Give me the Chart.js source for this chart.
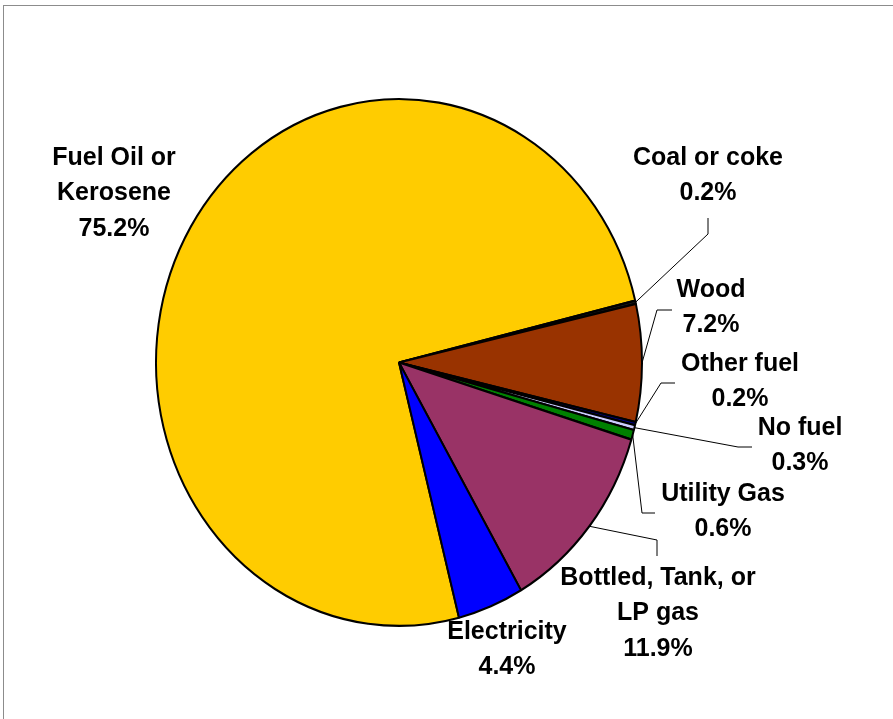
<!DOCTYPE html>
<html>
<head>
<meta charset="utf-8">
<script src="https://cdn.jsdelivr.net/npm/chart.js@4.4.1/dist/chart.umd.min.js"></script>
<style>
  html, body { margin: 0; padding: 0; background: #fff; overflow: hidden; }
  #frame { position: absolute; left: 3px; top: 5px; width: 2000px; height: 2000px; border: 1px solid #8c8c8c; }
  #pieChart { position: absolute; left: 0; top: 0; }
</style>
</head>
<body>
<div id="frame"></div>
<canvas id="pieChart" width="893" height="719"></canvas>
<script>
var categories = ['Fuel Oil or\nKerosene', 'Coal or coke', 'Wood', 'Other fuel', 'No fuel',
    'Utility Gas', 'Bottled, Tank, or\nLP gas', 'Electricity']
var values = [75.2, 0.2, 7.2, 0.2, 0.3, 0.6, 11.9, 4.4]
var colors = ['#FFCC00', '#1a1a1a', '#993300', '#000080', '#CCCCFF', '#008000', '#993366', '#0000FF']

// where each label sits (centre of first line) and the bend/end of its leader line
var labelSpots = [
  { x: 114, y: 158 },
  { x: 708, y: 158, bend: [708, 234], end: [708, 218] },
  { x: 711, y: 290, bend: [657, 310], end: [672, 310] },
  { x: 740, y: 364, bend: [661, 383], end: [675, 383] },
  { x: 800, y: 428, bend: [738, 447], end: [752, 447] },
  { x: 723, y: 494, bend: [642, 513], end: [655, 513] },
  { x: 658, y: 578, bend: [657, 540], end: [657, 556] },
  { x: 507, y: 632 },
]

var stretchY = 1.084 // the original pie is a little taller than wide

var ovalPlugin = {
  id: 'oval',
  beforeDatasetsDraw: function(chart) {
    var arc = chart.getDatasetMeta(0).data[0]
    var ctx = chart.ctx
    ctx.save()
    ctx.translate(arc.x, arc.y)
    ctx.scale(1, stretchY)
    ctx.translate(-arc.x, -arc.y)
  },
  afterDatasetsDraw: function(chart) {
    chart.ctx.restore()
  },
  afterDraw: function(chart) {
    var ctx = chart.ctx
    var arcs = chart.getDatasetMeta(0).data
    ctx.save()
    ctx.lineWidth = 1
    ctx.strokeStyle = '#000'
    arcs.forEach(function(arc, i) {
      var spot = labelSpots[i]
      if (!spot.bend) return
      var mid = (arc.startAngle + arc.endAngle) / 2
      var r = arc.outerRadius
      var sx = arc.x + Math.cos(mid) * r
      var sy = arc.y + Math.sin(mid) * r * stretchY
      ctx.beginPath()
      ctx.moveTo(sx, sy)
      ctx.lineTo(spot.bend[0], spot.bend[1])
      ctx.lineTo(spot.end[0], spot.end[1])
      ctx.stroke()
    })
    ctx.fillStyle = '#000'
    ctx.font = 'bold 25px "Liberation Sans", Arial, sans-serif'
    ctx.textAlign = 'center'
    ctx.textBaseline = 'middle'
    categories.forEach(function(name, i) {
      var lines = name.split('\n').concat([values[i].toFixed(1) + '%'])
      lines.forEach(function(line, j) {
        ctx.fillText(line, labelSpots[i].x, labelSpots[i].y + j * 35.5)
      })
    })
    ctx.restore()
  }
}

function createChart() {
  var pieChart = document.getElementById('pieChart')
  new Chart(pieChart, {
    type: 'pie',
    data: {
      labels: categories,
      datasets: [
        {
          data: values,
          backgroundColor: colors,
          borderColor: '#000',
          borderWidth: 2,
          clip: false,
        },
      ],
    },
    options: {
      responsive: false,
      animation: false,
      rotation: 165.7, // Fuel Oil starts just left of the bottom
      layout: {
        padding: { left: 155, right: 250, top: 118.5, bottom: 112.5 },
      },
      events: [],
      plugins: {
        legend: { display: false },
        tooltip: { enabled: false },
      },
    },
    plugins: [ovalPlugin],
  })
}

window.onload = function() {
  createChart()
}
</script>
</body>
</html>
